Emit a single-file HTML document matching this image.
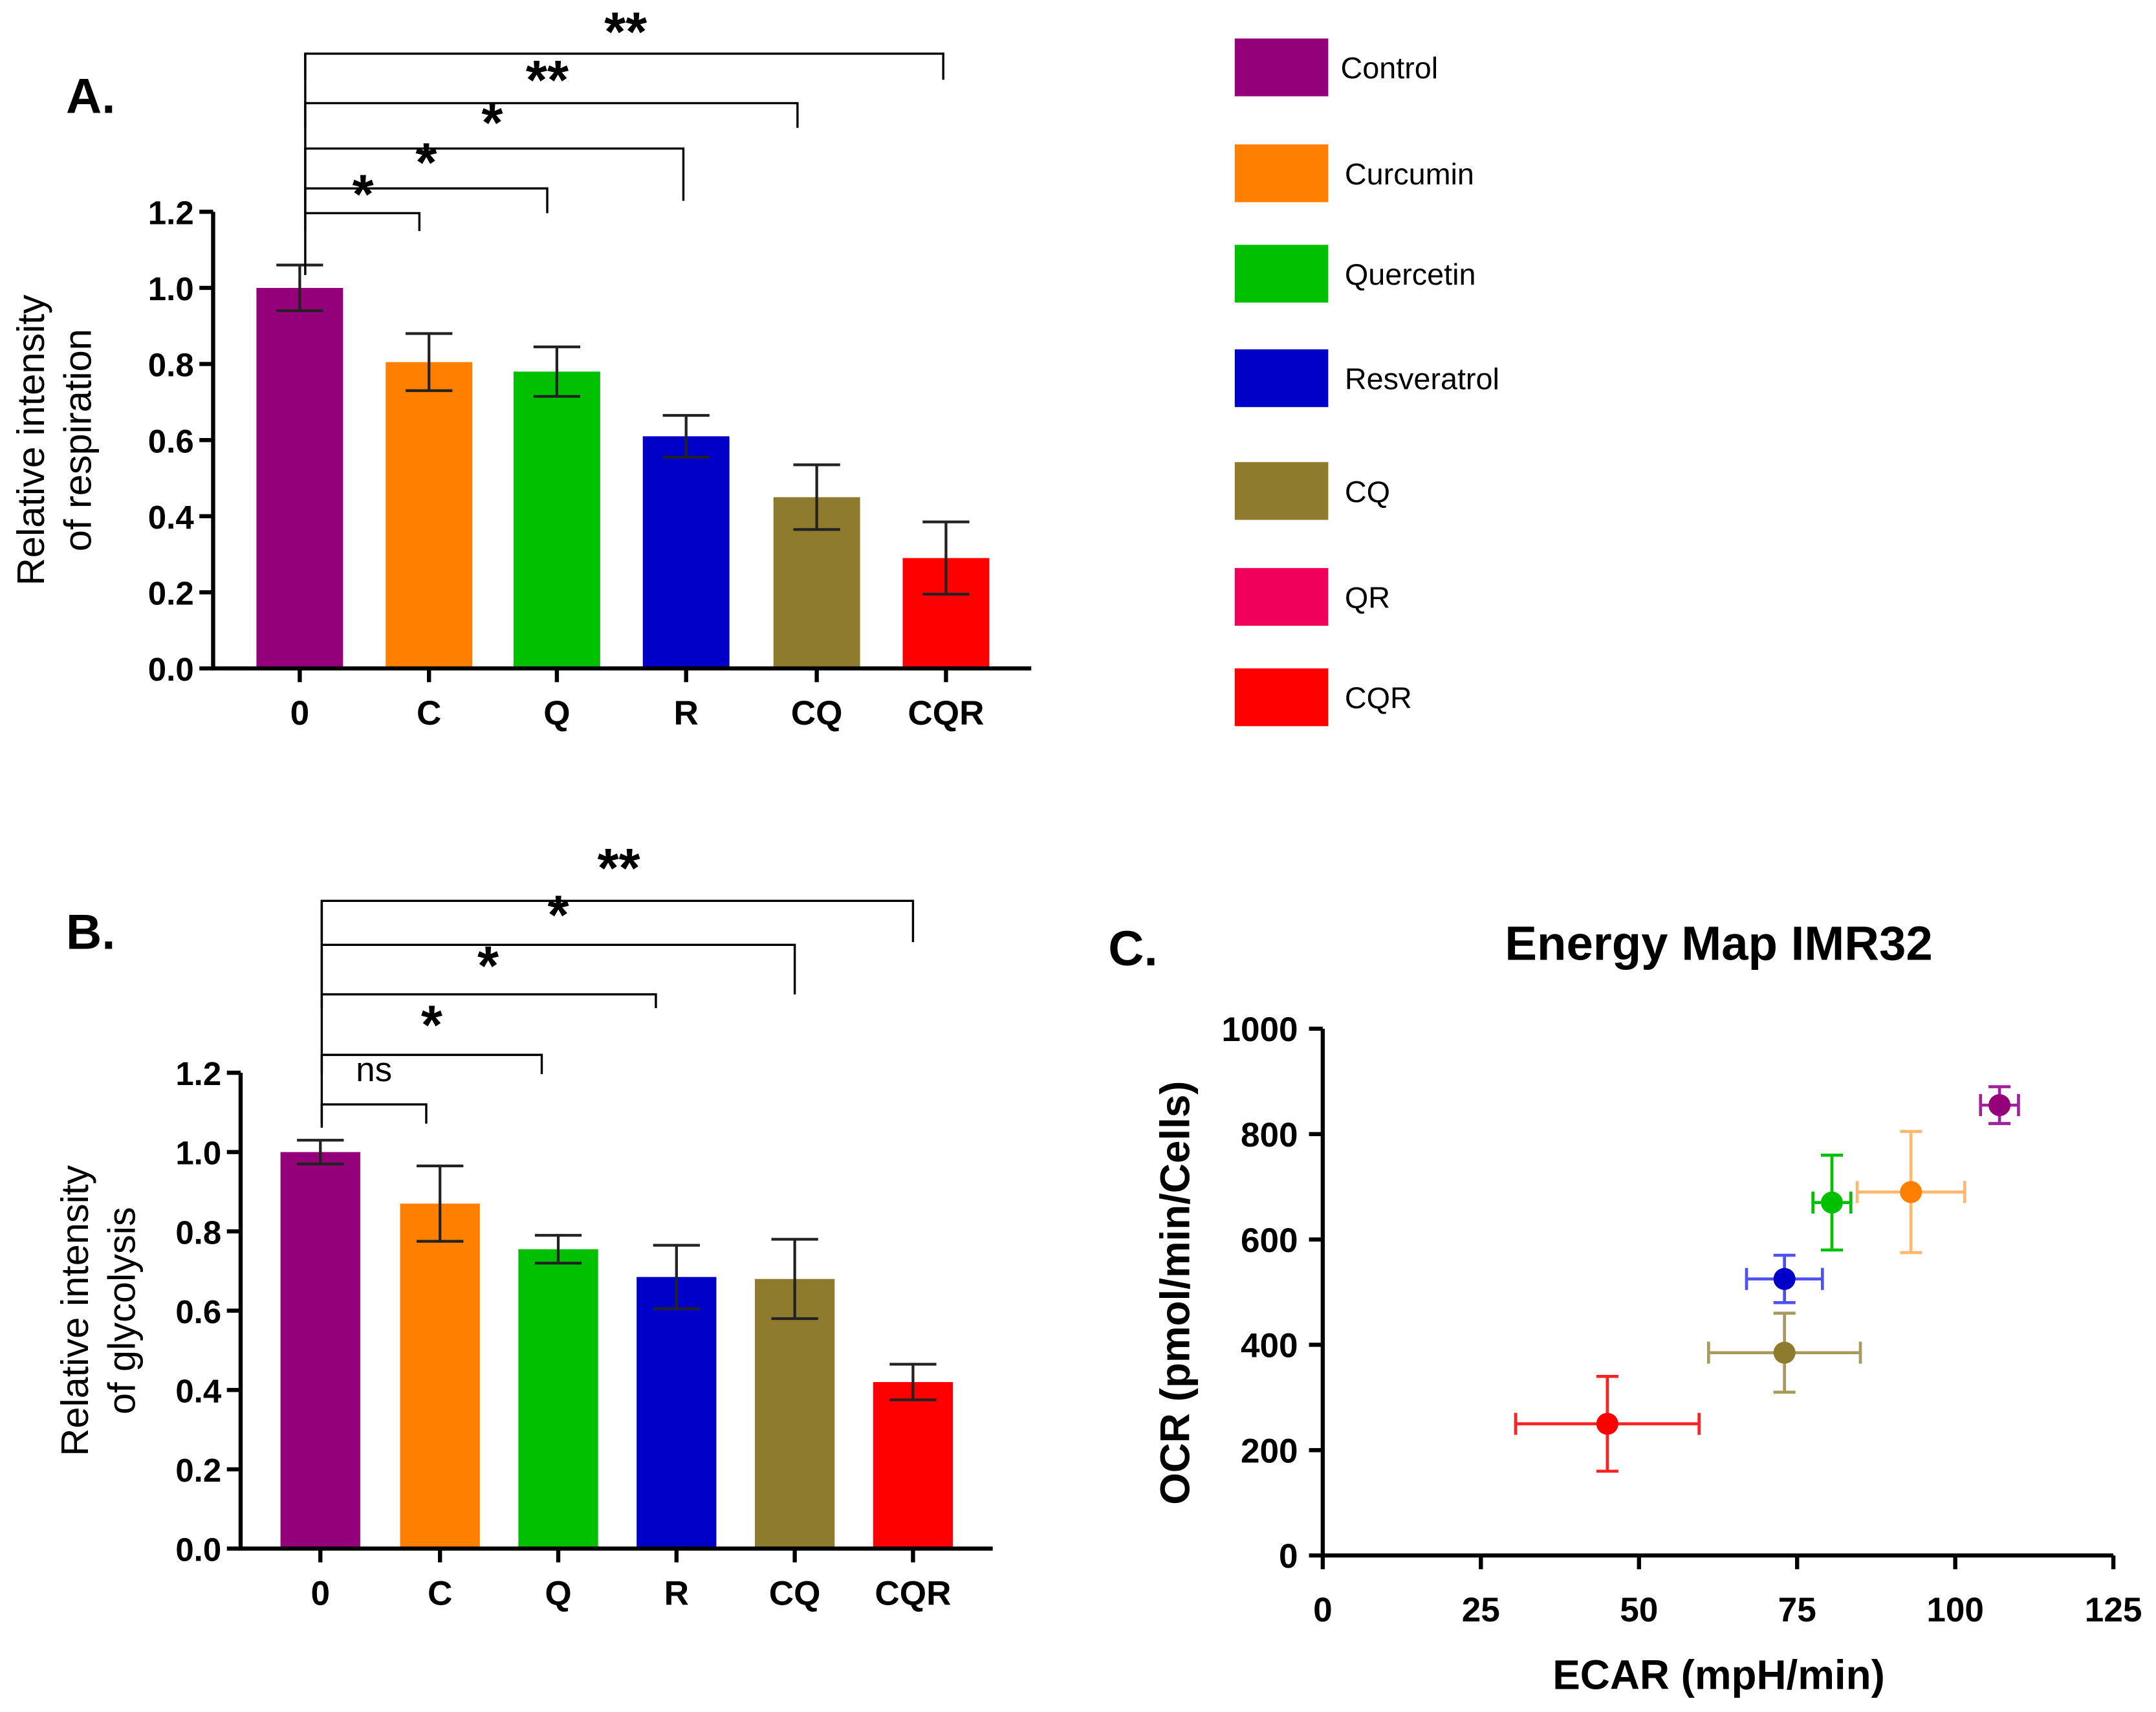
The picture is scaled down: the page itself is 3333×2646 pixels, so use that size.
<!DOCTYPE html>
<html><head><meta charset="utf-8"><style>
html,body{margin:0;padding:0;background:#fff}
svg{display:block}
text{font-family:"Liberation Sans",sans-serif}
</style></head><body>
<svg id="fig" width="3333" height="2646" viewBox="0 0 1568 1244.8" xmlns="http://www.w3.org/2000/svg">
<rect width="1568" height="1245" fill="#fff"/>
<g font-weight="bold" font-size="36">
<text x="48" y="82">A.</text>
<text x="48" y="690">B.</text>
<text x="806" y="702">C.</text>
</g>
<g id="legend"></g>
<g id="pa"></g>
<g id="pb"></g>
<g id="pc"></g>
</svg>
<script>
const categories = ["0","C","Q","R","CQ","CQR"];
const colors = ["#930079","#FF8000","#00C000","#0000C8","#8E7B2E","#FF0000"];
const respValues = [1.0,0.805,0.78,0.61,0.45,0.29];
const respErrors = [0.06,0.075,0.065,0.055,0.085,0.095];
const glyValues = [1.0,0.87,0.755,0.685,0.68,0.42];
const glyErrors = [0.03,0.095,0.035,0.08,0.1,0.045];
const yTicks = [0,0.2,0.4,0.6,0.8,1.0,1.2];
const legendLabels = ["Control","Curcumin","Quercetin","Resveratrol","CQ","QR","CQR"];
const legendColors = ["#930079","#FF8000","#00C000","#0000C8","#8E7B2E","#F0005A","#FF0000"];
const ecar = [107,93,80.5,73,73,45];
const ecarErr = [3,8.5,3,6,12,14.5];
const ocr = [855,690,670,525,385,250];
const ocrErr = [35,115,90,45,75,90];
const scatterColors = ["#930079","#FF8000","#00C000","#0000C8","#8E7B2E","#FF0000"];
const errColors = ["#A020A0","#FFB870","#00C000","#5050F0","#A89A5A","#FF2020"];
const xTicksC = [0,25,50,75,100,125];
const yTicksC = [0,200,400,600,800,1000];

const NS="http://www.w3.org/2000/svg";
function mk(parent,tag,attrs,txt){const e=document.createElementNS(NS,tag);for(const k in attrs)e.setAttribute(k,attrs[k]);if(txt!==undefined)e.textContent=txt;parent.appendChild(e);return e;}

const lg=document.getElementById('legend');
const legY=[49,126,199,275,357,434,507];
legendLabels.forEach((l,i)=>{
  const r=mk(lg,'rect',{x:898,y:legY[i]-21,width:68,height:42,fill:legendColors[i]});
  
  
  const t=mk(lg,'text',{x:i===0?975:978,y:legY[i]+8,'font-size':22},l);
  
  
});

function barChart(g,cfg,values,errors){
  const y=v=>cfg.y0-(v/1.2)*(cfg.y0-cfg.y12);
  const x=i=>cfg.cx[i];
  values.forEach((v,i)=>{
    const b=mk(g,'rect',{x:x(i)-cfg.bw/2,y:y(v),width:cfg.bw,height:cfg.y0-y(v),fill:colors[i]});
    
    
    const e=mk(g,'path',{d:`M${x(i)},${y(v+errors[i])}V${y(v-errors[i])}M${x(i)-17},${y(v+errors[i])}h34M${x(i)-17},${y(v-errors[i])}h34`,stroke:'#222','stroke-width':2,fill:'none'});
    
    
    const t=mk(g,'text',{x:x(i),y:cfg.y0+41,'font-size':25,'font-weight':'bold','text-anchor':'middle'},categories[i]);
    
    
    mk(g,'line',{x1:x(i),x2:x(i),y1:cfg.y0,y2:cfg.y0+10,stroke:'#000','stroke-width':3});
  });
  const ax=mk(g,'path',{d:`M${cfg.ax},${cfg.y12}V${cfg.y0}H${cfg.xEnd}`,stroke:'#000','stroke-width':3,fill:'none'});
  
  
  yTicks.forEach(v=>{
    mk(g,'line',{x1:cfg.ax-10,x2:cfg.ax,y1:y(v),y2:y(v),stroke:'#000','stroke-width':3});
    const t=mk(g,'text',{x:cfg.ax-14,y:y(v)+9,'font-size':24,'font-weight':'bold','text-anchor':'end'},v.toFixed(1));
    
    
  });
  const yt=mk(g,'text',{transform:`translate(${cfg.tx},${cfg.ty}) rotate(-90)`,'font-size':28,'text-anchor':'middle'});
  
  
  mk(yt,'tspan',{x:0,dy:0},cfg.t1);
  mk(yt,'tspan',{x:0,dy:34},cfg.t2);
  cfg.br.forEach(b=>{
    const p=mk(g,'path',{d:`M${cfg.bx},${b[2]}V${b[0]}H${b[1]}V${b[2]}`,stroke:'#000','stroke-width':1.6,fill:'none'});
    
    
  });
  cfg.st.forEach(s=>{
    const t=mk(g,'text',{x:s[0],y:s[1],'font-size':s[2]==='ns'?25:40,'font-weight':s[2]==='ns'?'normal':'bold','text-anchor':'middle'},s[2]);
    
    
  });
}
barChart(document.getElementById('pa'),{y0:486,y12:154,ax:155,xEnd:750,bw:63,cx:[218,312,405,499,594,688],tx:32,ty:320,t1:'Relative intensity',t2:'of respiration',bx:222,
 br:[[155,305,168],[137,398,155],[108,497,146],[75,580,93],[39,686,58]],
 st:[[264,155,'*'],[310,132,'*'],[358,103,'*'],[398,72,'**'],[455,37,'**']]},respValues,respErrors);
mk(document.getElementById('pa'),'path',{d:'M222,39V200',stroke:'#000','stroke-width':1.6});
barChart(document.getElementById('pb'),{y0:1126,y12:780,ax:175,xEnd:722,bw:58,cx:[233,320,406,492,578,664],tx:64,ty:953,t1:'Relative intensity',t2:'of glycolysis',bx:234,
 br:[[803,310,817],[767,394,781],[723,477,733],[687,578,723],[655,664,685]],
 st:[[272,786,'ns'],[314,759,'*'],[355,716,'*'],[406,679,'*'],[450,645,'**']]},glyValues,glyErrors);
mk(document.getElementById('pb'),'path',{d:'M234,655V820',stroke:'#000','stroke-width':1.6});

(function(){
  const g=document.getElementById('pc');
  const X=v=>962+v/125*(1537-962);
  const Y=v=>1131-v/1000*(1131-748);
  const ax=mk(g,'path',{d:`M962,748V1131H1537`,stroke:'#000','stroke-width':3,fill:'none'});
  
  
  xTicksC.forEach(v=>{
    mk(g,'line',{x1:X(v),x2:X(v),y1:1131,y2:1141,stroke:'#000','stroke-width':3});
    const t=mk(g,'text',{x:X(v),y:1179,'font-size':25,'font-weight':'bold','text-anchor':'middle'},v);
    
    
  });
  yTicksC.forEach(v=>{
    mk(g,'line',{x1:952,x2:962,y1:Y(v),y2:Y(v),stroke:'#000','stroke-width':3});
    const t=mk(g,'text',{x:944,y:Y(v)+9,'font-size':25,'font-weight':'bold','text-anchor':'end'},v);
    
    
  });
  ecar.forEach((v,i)=>{
    const cx=X(v),cy=Y(ocr[i]);
    const x1=X(v-ecarErr[i]),x2=X(v+ecarErr[i]),y1=Y(ocr[i]+ocrErr[i]),y2=Y(ocr[i]-ocrErr[i]);
    const e=mk(g,'path',{d:`M${x1},${cy}H${x2}M${x1},${cy-8}v16M${x2},${cy-8}v16M${cx},${y1}V${y2}M${cx-8},${y1}h16M${cx-8},${y2}h16`,stroke:errColors[i],'stroke-width':2.2,fill:'none'});
    
    
    const c=mk(g,'circle',{cx:cx,cy:cy,r:8,fill:scatterColors[i]});
    
    
  });
  const t=mk(g,'text',{x:1250,y:698,'font-size':35,'font-weight':'bold','text-anchor':'middle'},'Energy Map IMR32');
  
  
  const xl=mk(g,'text',{x:1250,y:1228,'font-size':30,'font-weight':'bold','text-anchor':'middle'},'ECAR (mpH/min)');
  
  
  const yl=mk(g,'text',{transform:'translate(865,940) rotate(-90)','font-size':30,'font-weight':'bold','text-anchor':'middle'},'OCR (pmol/min/Cells)');
  
  
})();
</script>
</body></html>
